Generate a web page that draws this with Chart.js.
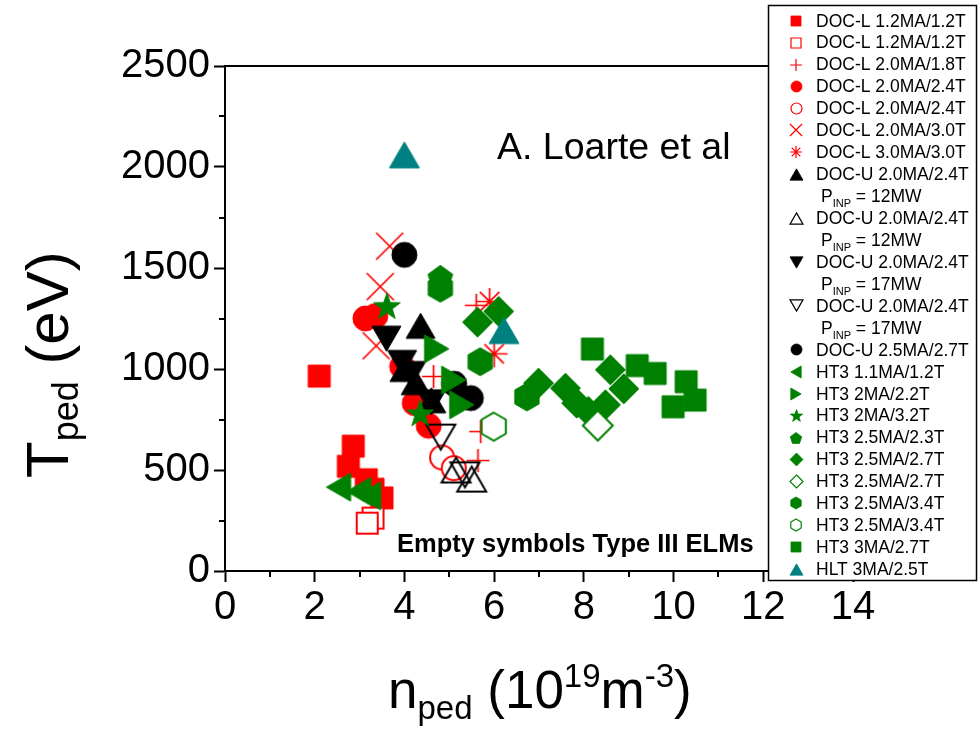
<!DOCTYPE html>
<html>
<head>
<meta charset="utf-8">
<script src="https://cdn.jsdelivr.net/npm/chart.js@4.4.1/dist/chart.umd.min.js"></script>
<style>
  html, body { margin: 0; padding: 0; background: #ffffff; }
  #wrap { width: 980px; height: 732px; position: relative; }
</style>
</head>
<body>
<div id="wrap"><canvas id="chart" width="980" height="732"></canvas></div>
<script>
// Pedestal density n_ped (1e19 m^-3) and pedestal temperature T_ped (eV), one list per series
const docL_1p2_1p2_typeI   = [[2.1, 965], [2.86, 618], [2.75, 518], [3.15, 452], [3.5, 362], [3.3, 405]];
const docL_1p2_1p2_typeIII = [[3.3, 262], [3.17, 237]];
const docL_2p0_1p8         = [[4.65, 963], [5.64, 547], [5.7, 690], [5.6, 1315]];
const docL_2p0_2p4_typeI   = [[3.13, 1250], [3.35, 1262], [3.95, 1012], [4.23, 831], [4.54, 719]];
const docL_2p0_2p4_typeIII = [[4.84, 562], [5.1, 509]];
const docL_2p0_3p0         = [[3.67, 1608], [3.46, 1408], [3.37, 1115]];
const docL_3p0_3p0         = [[5.9, 1334], [6.0, 1075]];
const docU_12MW_typeI      = [[4.36, 1214], [4.0, 1000], [4.25, 935], [4.6, 845]];
const docU_12MW_typeIII    = [[5.15, 500], [5.5, 455]];
const docU_17MW_typeI      = [[3.6, 1150], [3.95, 1030], [4.15, 975], [4.6, 835]];
const docU_17MW_typeIII    = [[4.81, 663], [5.35, 476]];
const docU_2p5_2p7         = [[4.0, 1565], [5.11, 927], [5.48, 856]];
const ht3_1p1_1p2          = [[2.53, 415], [2.98, 394], [3.2, 372]];
const ht3_2_2p2            = [[4.72, 1100], [5.1, 945], [5.28, 823]];
const ht3_2_3p2            = [[3.61, 1313], [4.35, 782]];
const ht3_2p5_2p3          = [[4.8, 1455]];
const ht3_2p5_2p7_typeI    = [[5.63, 1232], [6.1, 1285], [6.99, 930], [7.59, 905], [7.84, 831], [8.1, 790], [8.59, 996], [8.48, 823], [8.89, 902]];
const ht3_2p5_2p7_typeIII  = [[8.31, 720]];
const ht3_2p5_3p4_typeI    = [[4.8, 1400], [5.69, 1036], [6.73, 862]];
const ht3_2p5_3p4_typeIII  = [[5.99, 715]];
const ht3_3_2p7            = [[8.19, 1099], [9.19, 1017], [9.59, 978], [10.28, 937], [10.48, 846], [9.99, 813]];
const hlt_3_2p5            = [[4.0, 2060], [6.22, 1190]];

const seriesData = [
  docL_1p2_1p2_typeI, docL_1p2_1p2_typeIII, docL_2p0_1p8, docL_2p0_2p4_typeI, docL_2p0_2p4_typeIII,
  docL_2p0_3p0, docL_3p0_3p0, docU_12MW_typeI, docU_12MW_typeIII, docU_17MW_typeI, docU_17MW_typeIII,
  docU_2p5_2p7, ht3_1p1_1p2, ht3_2_2p2, ht3_2_3p2, ht3_2p5_2p3, ht3_2p5_2p7_typeI, ht3_2p5_2p7_typeIII,
  ht3_2p5_3p4_typeI, ht3_2p5_3p4_typeIII, ht3_3_2p7, hlt_3_2p5
];

const seriesLabels = [
  'DOC-L 1.2MA/1.2T', 'DOC-L 1.2MA/1.2T', 'DOC-L 2.0MA/1.8T', 'DOC-L 2.0MA/2.4T', 'DOC-L 2.0MA/2.4T',
  'DOC-L 2.0MA/3.0T', 'DOC-L 3.0MA/3.0T', 'DOC-U 2.0MA/2.4T', 'DOC-U 2.0MA/2.4T', 'DOC-U 2.0MA/2.4T',
  'DOC-U 2.0MA/2.4T', 'DOC-U 2.5MA/2.7T', 'HT3 1.1MA/1.2T', 'HT3 2MA/2.2T', 'HT3 2MA/3.2T',
  'HT3 2.5MA/2.3T', 'HT3 2.5MA/2.7T', 'HT3 2.5MA/2.7T', 'HT3 2.5MA/3.4T', 'HT3 2.5MA/3.4T',
  'HT3 3MA/2.7T', 'HLT 3MA/2.5T'
];

// Input power note printed under some legend entries
const inputPower = [null, null, null, null, null, null, null, '12MW', '12MW', '17MW', '17MW',
                    null, null, null, null, null, null, null, null, null, null, null];

const xTickStep = 2, xMax = 14;
const yTickStep = 500, yMax = 2500;

// ---- marker styles: [shape, colour, open, plot size, legend size] ----
const RED = '#ff0000', GREEN = '#008000', BLACK = '#000000', TEAL = '#008080';
const markerStyles = [
  ['square',   RED,   false, 22, 10],
  ['square',   RED,   true,  21, 10],
  ['plus',     RED,   false, 23, 12],
  ['circle',   RED,   false, 25, 11],
  ['circle',   RED,   true,  24, 11],
  ['x',        RED,   false, 27, 12],
  ['asterisk', RED,   false, 27, 12],
  ['triUp',    BLACK, false, 29, 13],
  ['triUp',    BLACK, true,  29, 13],
  ['triDown',  BLACK, false, 29, 13],
  ['triDown',  BLACK, true,  29, 13],
  ['circle',   BLACK, false, 25, 11],
  ['triLeft',  GREEN, false, 28, 12],
  ['triRight', GREEN, false, 28, 12],
  ['star5',    GREEN, false, 28, 13],
  ['pentagon', GREEN, false, 26, 12],
  ['diamond',  GREEN, false, 30, 13],
  ['diamond',  GREEN, true,  30, 13],
  ['hexagon',  GREEN, false, 28, 12],
  ['hexagon',  GREEN, true,  28, 12],
  ['square',   GREEN, false, 22, 10],
  ['triUp',    TEAL,  false, 30, 13]
];

function makeMarker(shape, size, color, open, lw) {
  const pad = Math.ceil(lw) + 2;
  const dim = Math.ceil(size + 2 * pad);
  const cv = document.createElement('canvas');
  cv.width = dim; cv.height = dim;
  const g = cv.getContext('2d');
  const c = dim / 2, r = size / 2;
  g.lineWidth = lw;
  g.strokeStyle = color;
  g.lineJoin = 'miter';
  g.beginPath();
  let strokeOnly = false;
  let whiteInside = open;
  const h = size * 0.866;
  switch (shape) {
    case 'square':
      g.rect(c - r, c - r, size, size); break;
    case 'circle':
      g.arc(c, c, r, 0, Math.PI * 2); break;
    case 'diamond':
      g.moveTo(c, c - r); g.lineTo(c + r, c); g.lineTo(c, c + r); g.lineTo(c - r, c); g.closePath(); break;
    case 'hexagon':
      for (let k = 0; k < 6; k++) {
        const a = (-90 + 60 * k) * Math.PI / 180;
        const px = c + r * Math.cos(a), py = c + r * Math.sin(a);
        if (k === 0) g.moveTo(px, py); else g.lineTo(px, py);
      }
      g.closePath(); break;
    case 'pentagon': {
      const off = r * 0.095;
      for (let k = 0; k < 5; k++) {
        const a = (-90 + 72 * k) * Math.PI / 180;
        const px = c + r * Math.cos(a), py = c + off + r * Math.sin(a);
        if (k === 0) g.moveTo(px, py); else g.lineTo(px, py);
      }
      g.closePath(); break;
    }
    case 'star5': {
      const off = r * 0.095, inner = r * 0.40;
      for (let k = 0; k < 10; k++) {
        const a = (-90 + 36 * k) * Math.PI / 180;
        const rr = k % 2 === 0 ? r : inner;
        const px = c + rr * Math.cos(a), py = c + off + rr * Math.sin(a);
        if (k === 0) g.moveTo(px, py); else g.lineTo(px, py);
      }
      g.closePath(); break;
    }
    case 'triUp':
      g.moveTo(c, c - h / 2); g.lineTo(c + r, c + h / 2); g.lineTo(c - r, c + h / 2); g.closePath();
      whiteInside = false; break;
    case 'triDown':
      g.moveTo(c, c + h / 2); g.lineTo(c + r, c - h / 2); g.lineTo(c - r, c - h / 2); g.closePath();
      whiteInside = false; break;
    case 'triLeft':
      g.moveTo(c - h / 2, c); g.lineTo(c + h / 2, c - r); g.lineTo(c + h / 2, c + r); g.closePath(); break;
    case 'triRight':
      g.moveTo(c + h / 2, c); g.lineTo(c - h / 2, c - r); g.lineTo(c - h / 2, c + r); g.closePath(); break;
    case 'plus':
      g.moveTo(c - r, c); g.lineTo(c + r, c); g.moveTo(c, c - r); g.lineTo(c, c + r);
      strokeOnly = true; break;
    case 'x':
      g.moveTo(c - r, c - r); g.lineTo(c + r, c + r); g.moveTo(c + r, c - r); g.lineTo(c - r, c + r);
      strokeOnly = true; break;
    case 'asterisk': {
      const d = r * 0.72;
      g.moveTo(c - r, c); g.lineTo(c + r, c); g.moveTo(c, c - r); g.lineTo(c, c + r);
      g.moveTo(c - d, c - d); g.lineTo(c + d, c + d); g.moveTo(c + d, c - d); g.lineTo(c - d, c + d);
      strokeOnly = true; break;
    }
  }
  if (!strokeOnly) {
    if (!open) { g.fillStyle = color; g.fill(); }
    else if (whiteInside) { g.fillStyle = '#ffffff'; g.fill(); }
  }
  g.stroke();
  return cv;
}

function markerLineWidth(shape, open, forLegend) {
  const stroked = shape === 'plus' || shape === 'x' || shape === 'asterisk';
  if (forLegend) return stroked || open ? 1.2 : 0.8;
  if (stroked) return 1.7;
  return open ? 2 : 1;
}

const plotMarkers = markerStyles.map(([shape, color, open, size]) =>
  makeMarker(shape, size, color, open, markerLineWidth(shape, open, false)));
const legendMarkers = markerStyles.map(([shape, color, open, , lsize]) =>
  makeMarker(shape, lsize, color, open, markerLineWidth(shape, open, true)));

const FONT = '"Liberation Sans", Arial, Helvetica, sans-serif';

const datasets = seriesData.map((pts, i) => ({
  label: seriesLabels[i],
  inputPower: inputPower[i],
  data: pts.map(([x, y]) => ({ x, y })),
  pointStyle: plotMarkers[i],
  pointRadius: 12,
  showLine: false,
  order: -i
}));

// Draws a run of text pieces with their own size and vertical offset
function drawRuns(ctx, x, y, runs) {
  let cx = x;
  runs.forEach(run => {
    ctx.font = (run.bold ? 'bold ' : '') + run.size + 'px ' + FONT;
    ctx.fillText(run.t, cx, y + (run.dy || 0));
    cx += ctx.measureText(run.t).width;
  });
}

const framePlugin = {
  id: 'frame',
  beforeDatasetsDraw(chart) {
    const { ctx, chartArea: a, scales } = chart;
    ctx.save();
    ctx.strokeStyle = '#000';
    ctx.lineWidth = 2;
    ctx.beginPath();
    ctx.moveTo(a.left - 1, a.top); ctx.lineTo(a.right, a.top); ctx.lineTo(a.right, a.bottom);
    ctx.stroke();
    // minor ticks
    ctx.lineWidth = 2;
    ctx.beginPath();
    for (let v = 1; v < xMax; v += 2) {
      const px = Math.round(scales.x.getPixelForValue(v));
      ctx.moveTo(px, a.bottom); ctx.lineTo(px, a.bottom + 6);
    }
    for (let v = 250; v < yMax; v += 500) {
      const py = Math.round(scales.y.getPixelForValue(v));
      ctx.moveTo(a.left, py); ctx.lineTo(a.left - 6, py);
    }
    ctx.stroke();
    ctx.restore();
  }
};

const textPlugin = {
  id: 'texts',
  afterDraw(chart) {
    const ctx = chart.ctx;
    ctx.save();
    ctx.fillStyle = '#000';
    ctx.textAlign = 'left';
    ctx.textBaseline = 'alphabetic';
    // y axis title
    ctx.save();
    ctx.translate(68, 478);
    ctx.rotate(-Math.PI / 2);
    drawRuns(ctx, 0, 0, [
      { t: 'T', size: 60 },
      { t: 'ped', size: 36, dy: 10 },
      { t: ' (eV)', size: 60 }
    ]);
    ctx.restore();
    // x axis title
    drawRuns(ctx, 388, 708, [
      { t: 'n', size: 53 },
      { t: 'ped', size: 33, dy: 11 },
      { t: ' (10', size: 53 },
      { t: '19', size: 33, dy: -21 },
      { t: 'm', size: 53 },
      { t: '-3', size: 33, dy: -21 },
      { t: ')', size: 53 }
    ]);
    // annotations
    drawRuns(ctx, 497, 159, [{ t: 'A. Loarte et al', size: 37.5 }]);
    drawRuns(ctx, 397, 552, [{ t: 'Empty symbols Type III ELMs', size: 25.5, bold: true }]);
    ctx.restore();
  }
};

const legendPlugin = {
  id: 'boxLegend',
  afterDraw(chart) {
    const ctx = chart.ctx;
    const left = 768, top = 5, width = 208, height = 575;
    ctx.save();
    ctx.fillStyle = '#ffffff';
    ctx.fillRect(left, top, width, height);
    ctx.strokeStyle = '#000';
    ctx.lineWidth = 1.5;
    ctx.strokeRect(left + 0.5, top + 0.5, width, height);
    ctx.fillStyle = '#000';
    ctx.textAlign = 'left';
    ctx.textBaseline = 'middle';
    let row = 0;
    chart.data.datasets.forEach((ds, i) => {
      const y = 20.7 + row * 21.94;
      const m = legendMarkers[i];
      ctx.drawImage(m, Math.round(796 - m.width / 2), Math.round(y - m.height / 2));
      ctx.font = '17.5px ' + FONT;
      ctx.fillText(ds.label, 816, y + 1);
      row++;
      if (ds.inputPower) {
        const y2 = 20.7 + row * 21.94 + 1;
        ctx.textBaseline = 'middle';
        drawRuns(ctx, 821, y2, [
          { t: 'P', size: 17.5 },
          { t: 'INP', size: 11, dy: 7 },
          { t: ' = ' + ds.inputPower, size: 17.5 }
        ]);
        row++;
      }
    });
    ctx.restore();
  }
};

const tickFont = { family: FONT, size: 40 };
const plainNumber = v => String(v);

new Chart(document.getElementById('chart'), {
  type: 'scatter',
  data: { datasets },
  options: {
    responsive: false,
    animation: false,
    devicePixelRatio: 1,
    events: [],
    layout: { padding: { top: 66, right: 127, left: 0, bottom: 0 } },
    plugins: { legend: { display: false }, tooltip: { enabled: false } },
    scales: {
      x: {
        type: 'linear', min: 0, max: xMax, position: 'bottom',
        ticks: { stepSize: xTickStep, font: tickFont, color: '#000', padding: 2, maxRotation: 0, autoSkip: false, callback: plainNumber },
        grid: { drawOnChartArea: false, tickLength: 11, tickWidth: 2, tickColor: '#000' },
        border: { color: '#000', width: 2 },
        afterFit(s) { s.height = 161; }
      },
      y: {
        type: 'linear', min: 0, max: yMax, position: 'left',
        ticks: { stepSize: yTickStep, font: tickFont, color: '#000', padding: 4, autoSkip: false, callback: plainNumber },
        grid: { drawOnChartArea: false, tickLength: 11, tickWidth: 2, tickColor: '#000' },
        border: { color: '#000', width: 2 },
        afterFit(s) { s.width = 225; }
      }
    }
  },
  plugins: [framePlugin, textPlugin, legendPlugin]
});
</script>
</body>
</html>
